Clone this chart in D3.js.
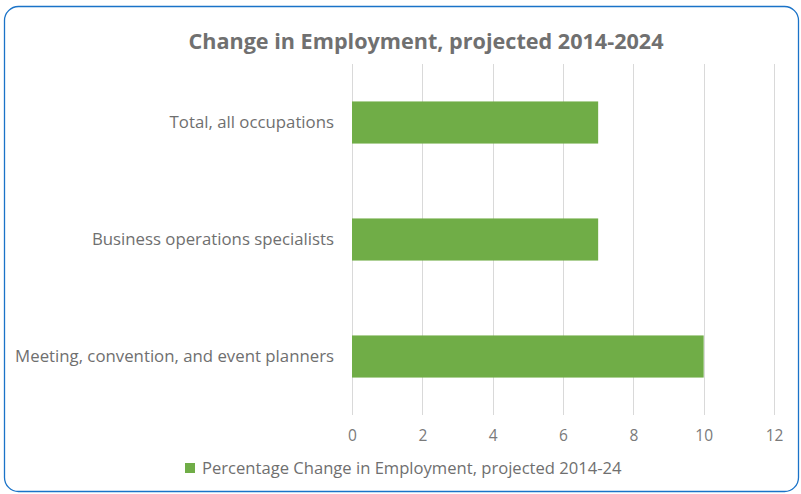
<html>
<script src="https://d3js.org/d3.v7.min.js"></script>
<style>
  body { margin: 0; background: #fff; font-family: 'Open Sans', sans-serif; }
</style>
<body>
<svg id="chart" width="801" height="494"></svg>
<script>
  // data
  const categories = ['Total, all occupations', 'Business operations specialists', 'Meeting, convention, and event planners'];
  const values = [7, 7, 10];
  const xTicks = [0, 2, 4, 6, 8, 10, 12];
  const seriesName = 'Percentage Change in Employment, projected 2014-24';
  const title = 'Change in Employment, projected 2014-2024';

  let svg = d3.select("svg#chart");
  let width = +svg.attr("width");
  let height = +svg.attr("height");

  let padding = {top: 64, bottom: 79, left: 352, right: 27};
  let chartWidth = width - padding.left - padding.right;
  let chartHeight = height - padding.top - padding.bottom;

  // frame
  svg.append("rect")
    .attr("x", 4.5).attr("y", 6.5)
    .attr("width", 794).attr("height", 485)
    .attr("rx", 14).attr("ry", 14)
    .attr("fill", "#fff")
    .attr("stroke", "#1a73c8")
    .attr("stroke-width", 1.3);

  svg.append("text")
    .attr("x", 426).attr("y", 49)
    .attr("text-anchor", "middle")
    .attr("font-size", 21.6)
    .attr("font-weight", "bold")
    .attr("fill", "#707070")
    .text(title);

  let xScale = d3.scaleLinear()
    .domain([0, 12])
    .range([0, chartWidth]);

  let yScale = d3.scaleBand()
    .domain(categories)
    .range([0, chartHeight])
    .paddingInner(0.64)
    .paddingOuter(0.32);

  let g = svg.append("g")
    .attr("transform", "translate(" + padding.left + "," + padding.top + ")");

  // gridlines
  g.selectAll(".grid")
    .data(xTicks)
    .enter().append("line")
    .attr("class", "grid")
    .attr("x1", d => Math.round(xScale(d)) + 0.5)
    .attr("x2", d => Math.round(xScale(d)) + 0.5)
    .attr("y1", 0)
    .attr("y2", chartHeight)
    .attr("stroke", "#d9d9d9")
    .attr("stroke-width", 1);

  // x axis labels
  const xAxis = d3.axisBottom(xScale).tickValues(xTicks).tickSize(0).tickPadding(15);
  let xg = g.append("g")
    .attr("transform", "translate(0," + chartHeight + ")")
    .call(xAxis);
  xg.select(".domain").remove();
  xg.selectAll("text")
    .attr("font-family", "'Open Sans', sans-serif")
    .attr("font-size", 15.5)
    .attr("fill", "#7a7a7a");

  // category labels
  const yAxis = d3.axisLeft(yScale).tickSize(0).tickPadding(18);
  let yg = g.append("g").call(yAxis);
  yg.select(".domain").remove();
  yg.selectAll("text")
    .attr("font-family", "'Open Sans', sans-serif")
    .attr("font-size", 16.8)
    .attr("fill", "#6f6f6f");

  // bars
  g.selectAll(".bar")
    .data(values)
    .enter().append("rect")
    .attr("class", "bar")
    .attr("x", xScale(0))
    .attr("y", (d, i) => yScale(categories[i]))
    .attr("width", d => xScale(d) - xScale(0))
    .attr("height", yScale.bandwidth())
    .attr("fill", "#70ad47");

  // legend
  let lg = svg.append("g").attr("transform", "translate(185,463)");
  lg.append("rect").attr("width", 10).attr("height", 10).attr("fill", "#70ad47");
  lg.append("text")
    .attr("x", 17).attr("y", 10.5)
    .attr("font-size", 16.6)
    .attr("fill", "#6f6f6f")
    .text(seriesName);
</script>
</body>
</html>
